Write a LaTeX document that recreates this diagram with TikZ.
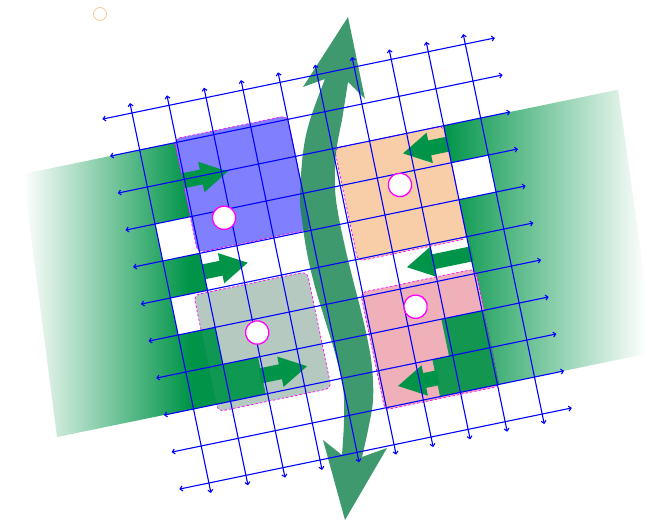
\documentclass[tikz,border=0pt]{standalone}
\usetikzlibrary{arrows.meta}
\definecolor{gridblue}{RGB}{0,0,255}
\definecolor{bandgreen}{RGB}{0,148,72}
\definecolor{bigarrowgreen}{RGB}{20,130,78}
\definecolor{blueblock}{RGB}{128,128,255}
\definecolor{orangeblock}{RGB}{248,206,168}
\definecolor{grayblock}{RGB}{181,201,193}
\definecolor{pinkblock}{RGB}{240,176,185}
\definecolor{ringmagenta}{RGB}{255,0,255}
\definecolor{tinyorange}{RGB}{250,200,150}
\pgfdeclarehorizontalshading{leftfade}{100bp}{color(0bp)=(white); color(25bp)=(white); color(65bp)=(bandgreen); color(100bp)=(bandgreen)}
\pgfdeclarehorizontalshading{rightfade}{100bp}{color(0bp)=(bandgreen); color(25bp)=(bandgreen); color(73bp)=(white); color(100bp)=(white)}
\tikzset{
 gridframe/.style={x=1pt,y=1pt,cm={37.03,7.66,7.69,-37.0,(132pt,408pt)}},
 imgframe/.style={x=1pt,y=-1pt,shift={(0pt,521pt)}},
 gridline/.style={gridblue, line width=1.1pt, {Straight Barb[length=2.5pt,width=5pt]}-{Straight Barb[length=2.5pt,width=5pt]}},
 block/.style={draw=ringmagenta, line width=0.7pt, dash pattern=on 2.5pt off 2pt, rounded corners=6pt},
 hole/.style={fill=white},
 darkcell/.style={fill=bandgreen, fill opacity=0.92},
 smallarrow/.style={fill=bandgreen},
 ring/.style={draw=ringmagenta, fill=white, line width=1.3pt},
 bigarrow/.style={fill=bigarrowgreen, fill opacity=0.82},
}
\newcommand{\grarrowR}[3]{% tail, tip, row
 \fill[smallarrow] (#1,{#3-0.2}) -- ({#2-0.72},{#3-0.2}) -- ({#2-0.72},{#3-0.41}) -- (#2,#3) -- ({#2-0.72},{#3+0.41}) -- ({#2-0.72},{#3+0.2}) -- (#1,{#3+0.2}) -- cycle;}
\newcommand{\grarrowL}[3]{% tail, tip, row
 \fill[smallarrow] (#1,{#3-0.2}) -- ({#2+0.72},{#3-0.2}) -- ({#2+0.72},{#3-0.41}) -- (#2,#3) -- ({#2+0.72},{#3+0.41}) -- ({#2+0.72},{#3+0.2}) -- (#1,{#3+0.2}) -- cycle;}
\begin{document}
\begin{tikzpicture}
\useasboundingbox (0,0) rectangle (655pt,521pt);
\begin{scope}[gridframe]
 \coordinate (g11) at (1,1);
 \coordinate (g18) at (1,8);
 \coordinate (g82) at (8,2);
 \coordinate (g89) at (8,9);
\end{scope}
\begin{scope}[imgframe]
 \coordinate (bandLT) at (23,174);
 \coordinate (bandLB) at (57,437);
 \coordinate (bandRT) at (618,89.7);
 \coordinate (bandRB) at (655,352);
\end{scope}
% band
\shade[shading=leftfade] (bandLT) -- (g11) -- (g18) -- (bandLB) -- cycle;
\shade[shading=rightfade] (g82) -- (bandRT) -- (bandRB) -- (g89) -- cycle;
\begin{scope}[gridframe]
 \fill[hole] (0,3) rectangle (1,4);
 \fill[hole] (0,5) rectangle (1,6);
 \fill[hole] (8,3) rectangle (9,4);
 \filldraw[block, fill=blueblock] (0.95,0.9) rectangle (4.0,3.97);
 \filldraw[block, fill=orangeblock] (5.05,2.0) rectangle (8.0,5.05);
 \filldraw[block, fill=grayblock] (0.62,5.05) rectangle (3.68,8.2);
 \filldraw[block, fill=pinkblock] (4.95,5.88) rectangle (8.05,9.05);
 \fill[darkcell] (0.6,6) -- (1,6) -- (1,7) -- (1.95,7) -- (1.95,8) -- (0.6,8) -- cycle;
 \fill[darkcell] (6.9,7) -- (8.05,7) -- (8.05,9) -- (6.45,9) -- (6.45,8) -- (6.9,8) -- cycle;
 \grarrowR{0.95}{2.17}{2.03}
 \grarrowR{0.95}{2.19}{4.5}
 \grarrowR{1.9}{3.17}{7.5}
 \grarrowL{8.05}{6.80}{2.5}
 \grarrowL{8.05}{6.29}{5.47}
 \grarrowL{6.5}{5.42}{8.5}
\end{scope}
% big wavy double arrow
\begin{scope}[imgframe]
 \fill[bigarrow] (348,17) -- (365,99) -- (348,82)
  -- plot[smooth, tension=0.6] coordinates {(342,120) (336,153) (335,187) (338,213) (345,247) (353,280) (360,307) (367,337) (372,367) (373,400) (368,430) (362,457)}
  -- (387,448) -- (345,520) -- (323,440)
  -- plot[smooth, tension=0.6] coordinates {(342,455) (344,420) (343,387) (335,353) (325,320) (315,287) (307,253) (302,220) (300,197) (303,153) (310,120) (325,79)}
  -- (303,87) -- cycle;
\end{scope}
\begin{scope}[gridframe]
 \foreach \b in {0,...,10} \draw[gridline] (-0.8,\b) -- (9.8,\b);
 \foreach \a in {0,...,9} \draw[gridline] (\a,-0.27) -- (\a,10.27);
 \filldraw[ring] (1.82,3.21) circle (0.31);
 \filldraw[ring] (6.55,3.30) circle (0.31);
 \filldraw[ring] (2.06,6.36) circle (0.31);
 \filldraw[ring] (6.30,6.54) circle (0.31);
\end{scope}
\begin{scope}[imgframe]
 \draw[tinyorange, line width=0.8pt] (100,14) circle (6.5);
\end{scope}
\end{tikzpicture}
\end{document}
